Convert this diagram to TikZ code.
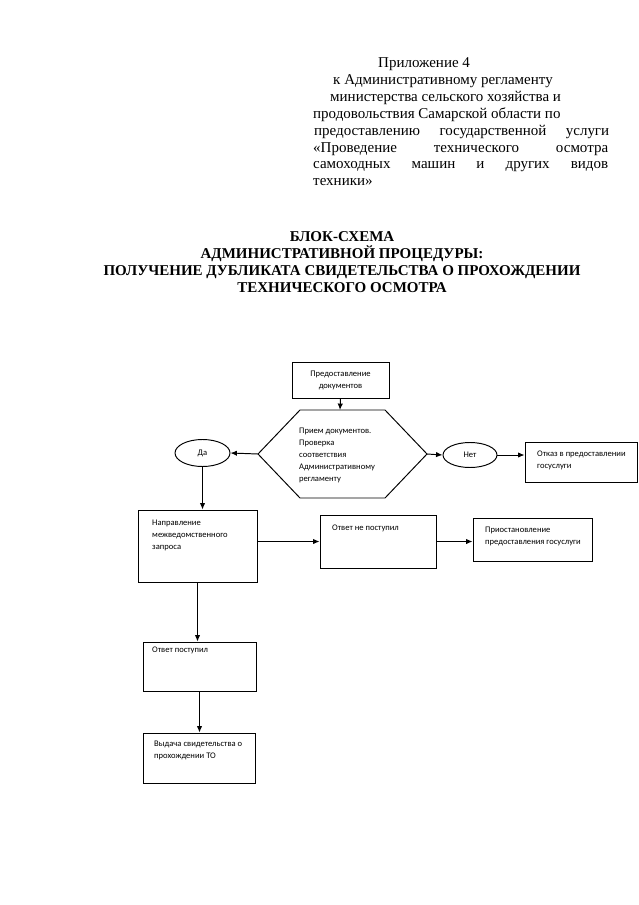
\documentclass[tikz,border=0pt]{standalone}
\usepackage{fontspec}
\setmainfont{Liberation Serif}
\newfontfamily\calibri{Carlito}
\usetikzlibrary{arrows.meta}
\usetikzlibrary{shapes.geometric}
\newcommand{\pxsize}{0.9337pt}
\newlength{\hdrwidth}
\setlength{\hdrwidth}{275.4pt}
\tikzstyle{hdrline}=[anchor=base west, inner sep=0, font=\fontsize{14}{16}\selectfont]
\tikzstyle{ttlline}=[anchor=base, inner sep=0, font=\bfseries\fontsize{14}{16}\selectfont]
\tikzstyle{blok}=[draw, line width=0.9pt, inner sep=0, font=\calibri\fontsize{8}{11.2}\selectfont]
\tikzstyle{otvet}=[blok, ellipse]
\tikzstyle{bloktext}=[anchor=north west, inner sep=0, align=left, font=\calibri\fontsize{8}{11.2}\selectfont]
\tikzstyle{strelka}=[-{Latex[length=6pt, width=5pt]}, line width=0.9pt]
\tikzset{boxsize/.style 2 args={minimum width=#1*\pxsize, minimum height=#2*\pxsize}}

\begin{document}
\begin{tikzpicture}[x=\pxsize, y=-\pxsize]
    \useasboundingbox (0,0) rectangle (638,905);
    % header
    \node[hdrline] (pril) at (378,68) {Приложение 4};
    \node[hdrline] (hdr2) at (333,84.8) {к Административному регламенту};
    \node[hdrline] (hdr3) at (330,101.6) {министерства сельского хозяйства и};
    \node[hdrline] (hdr4) at (313,118.4) {продовольствия Самарской области по};
    \node[hdrline] (hdr5) at (314,135.2) {\makebox[\hdrwidth][s]{предоставлению государственной услуги}};
    \node[hdrline] (hdr6) at (313,152) {\makebox[\hdrwidth][s]{«Проведение технического осмотра}};
    \node[hdrline] (hdr7) at (313,168.8) {\makebox[\hdrwidth][s]{самоходных машин и других видов}};
    \node[hdrline] (hdr8) at (313,185.6) {техники»};
    \node[ttlline] (ttl1) at (342,241) {БЛОК-СХЕМА};
    \node[ttlline] (ttl2) at (342,258) {АДМИНИСТРАТИВНОЙ ПРОЦЕДУРЫ:};
    \node[ttlline] (ttl3) at (342,275) {ПОЛУЧЕНИЕ ДУБЛИКАТА СВИДЕТЕЛЬСТВА О ПРОХОЖДЕНИИ};
    \node[ttlline] (ttl4) at (342,292) {ТЕХНИЧЕСКОГО ОСМОТРА};
    % flow chart
    \node[blok, boxsize={97}{36}, align=center] (dok) at (340.5,380) {Предоставление\\документов};
    \coordinate (priem-w) at (258,454);
    \coordinate (priem-e) at (427,454);
    \coordinate (priem-n) at (340,410);
    \draw[line width=0.9pt] (priem-w) -- (300,410) -- (385,410) -- (priem-e) -- (385,498) -- (300,498) -- cycle;
    \node[bloktext, anchor=west] (priem) at (299,455) {Прием документов.\\Проверка\\соответствия\\Административному\\регламенту};
    \node[otvet, boxsize={55}{27}] (da) at (202.5,453) {Да};
    \node[otvet, boxsize={54}{25}] (net) at (470,455) {Нет};
    \node[blok, boxsize={112}{40}] (otkaz) at (581,462) {};
    \node[bloktext] (otkaz-t) at (537,451) {Отказ в предоставлении\\госуслуги};
    \node[blok, boxsize={119}{72}] (zapros) at (197.5,546) {};
    \node[bloktext] (zapros-t) at (152,520) {Направление\\межведомственного\\запроса};
    \node[blok, boxsize={116}{53}] (neotv) at (378,541.5) {};
    \node[bloktext] (neotv-t) at (332,525) {Ответ не поступил};
    \node[blok, boxsize={119}{43}] (priost) at (532.5,539.5) {};
    \node[bloktext] (priost-t) at (485,527) {Приостановление\\предоставления госуслуги};
    \node[blok, boxsize={113}{49}] (postup) at (199.5,666.5) {};
    \node[bloktext] (postup-t) at (152,647) {Ответ поступил};
    \node[blok, boxsize={112}{50}] (vydacha) at (199,758) {};
    \node[bloktext] (vydacha-t) at (154,741) {Выдача свидетельства о\\прохождении ТО};
    \draw[strelka] (dok.south) -- (priem-n);
    \draw[strelka] (priem-w) -- (da.east);
    \draw[strelka] (da.south) -- (da.south |- zapros.north);
    \draw[strelka] (priem-e) -- (net.west);
    \draw[strelka] (net.east) -- (net.east -| otkaz.west);
    \draw[strelka] (neotv.west -| zapros.east) -- (neotv.west);
    \draw[strelka] (neotv.east) -- (neotv.east -| priost.west);
    \draw[strelka] (zapros.south) -- (zapros.south |- postup.north);
    \draw[strelka] (postup.south) -- (postup.south |- vydacha.north);
\end{tikzpicture}
\end{document}
